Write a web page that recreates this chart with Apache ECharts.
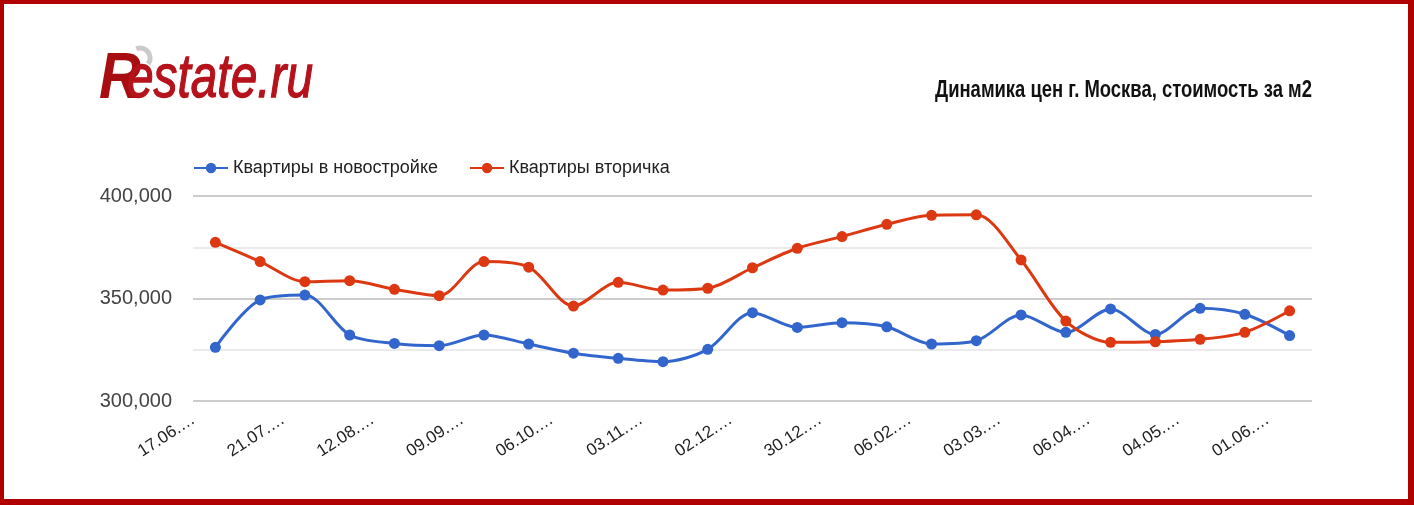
<!DOCTYPE html>
<html>
<head>
<meta charset="utf-8">
<script src="https://cdn.jsdelivr.net/npm/echarts@6/dist/echarts.min.js"></script>
<style>
html,body{margin:0;padding:0;background:#fff;}
#wrap{position:relative;width:1414px;height:505px;overflow:hidden;}
#chart{position:absolute;left:0;top:0;width:1414px;height:505px;}
#frame{position:absolute;left:0;top:0;width:1414px;height:505px;box-sizing:border-box;
  border-style:solid;border-color:#b00000;border-width:4px 6px 6px 4px;pointer-events:none;}
</style>
</head>
<body>
<div id="wrap"><div id="chart"></div><div id="frame"></div></div>
<script>
// Dates (only every second one is legible in the source; the others are estimates)
const categories = ['17.06','03.07','21.07','29.07','12.08','26.08','09.09','23.09','06.10','20.10',
  '03.11','17.11','02.12','16.12','30.12','20.01','06.02','20.02','03.03','17.03',
  '06.04','20.04','04.05','18.05','01.06'];
const seriesNames = ['Квартиры в новостройке','Квартиры вторичка'];
const newBuild = [326200,349300,351700,332200,328100,327000,332200,327800,323300,320800,
  319200,325200,343100,335900,338200,336200,327800,329400,342000,333500,
  344900,332500,345200,342300,331900];
const resale = [377400,368000,358200,358700,354500,351400,368000,365300,346300,357900,
  354100,355000,365000,374500,380200,386200,390600,390800,368800,339000,
  328600,328900,330100,333500,344000];
const yTicks = {min:300000, max:400000, interval:50000};
const titleText = 'Динамика цен г. Москва, стоимость за м2';
const logoR = 'R';
const logoRest = 'estate.ru';

const ctx = document.createElement('canvas').getContext('2d');
function widthOf(text, font){ ctx.font = font; return ctx.measureText(text).width; }
const titleFont = 'bold 24px "Liberation Sans", Arial, sans-serif';
const titleScale = 377 / widthOf(titleText, titleFont);
const restFont = 'italic 62px "Liberation Sans", Arial, sans-serif';
const restScale = 186 / widthOf(logoRest, restFont);
const rFont = 'italic bold 64px "Liberation Sans", Arial, sans-serif';
const rScale = 42 / widthOf(logoR, rFont);

const chart = echarts.init(document.getElementById('chart'), null, {renderer:'canvas'});
const fmt = v => String(v).replace(/\B(?=(\d{3})+(?!\d))/g, ',');
chart.setOption({
  animation:false,
  backgroundColor:'#fff',
  color:['#3366cc','#dc3912'],
  graphic:[
    {type:'text', x:935, y:90, scaleX:titleScale, style:{text:titleText, fill:'#111',
      font:titleFont, textAlign:'left', textVerticalAlign:'middle'}},
    {type:'arc', shape:{cx:140, cy:58, r:10, startAngle:-Math.PI*0.62, endAngle:Math.PI*0.2},
      style:{stroke:'#cbcbcb', lineWidth:5, fill:null}},
    {type:'text', x:99, y:80, scaleX:rScale, style:{text:logoR, fill:'#a80d12',
      textVerticalAlign:'middle', font:rFont}},
    {type:'text', x:127, y:80, scaleX:restScale, style:{text:logoRest, fill:'#b5121b',
      stroke:'#b5121b', lineWidth:1.3, textVerticalAlign:'middle', font:restFont}}
  ],
  legend:{
    left:188, top:154, itemWidth:34, itemHeight:13, itemGap:31,
    textStyle:{fontFamily:'Arial, "Liberation Sans", sans-serif', fontSize:18, color:'#222'},
    data:seriesNames
  },
  grid:{left:193, right:102, top:196, bottom:104},
  xAxis:{
    type:'category', data:categories, boundaryGap:true,
    axisLine:{show:false}, axisTick:{show:false},
    axisLabel:{interval:1, rotate:33, margin:3, color:'#222', fontSize:17,
      fontFamily:'Arial, "Liberation Sans", sans-serif', padding:[0,26,0,0],
      formatter:v => v + '.…'}
  },
  yAxis:{
    type:'value', min:yTicks.min, max:yTicks.max, interval:yTicks.interval,
    axisLine:{show:false}, axisTick:{show:false},
    axisLabel:{color:'#444', fontSize:20, margin:21, fontFamily:'Arial, "Liberation Sans", sans-serif',
      formatter:fmt},
    splitLine:{lineStyle:{color:'#cccccc', width:2}},
    minorTick:{show:false, splitNumber:2},
    minorSplitLine:{show:true, lineStyle:{color:'#ebebeb', width:2}}
  },
  series:[
    {name:seriesNames[0], type:'line', data:newBuild, smooth:0.3, symbol:'circle', symbolSize:11,
      lineStyle:{width:3}, itemStyle:{color:'#3366cc'}},
    {name:seriesNames[1], type:'line', data:resale, smooth:0.3, symbol:'circle', symbolSize:11,
      lineStyle:{width:3}, itemStyle:{color:'#dc3912'}}
  ]
});
</script>
</body>
</html>
